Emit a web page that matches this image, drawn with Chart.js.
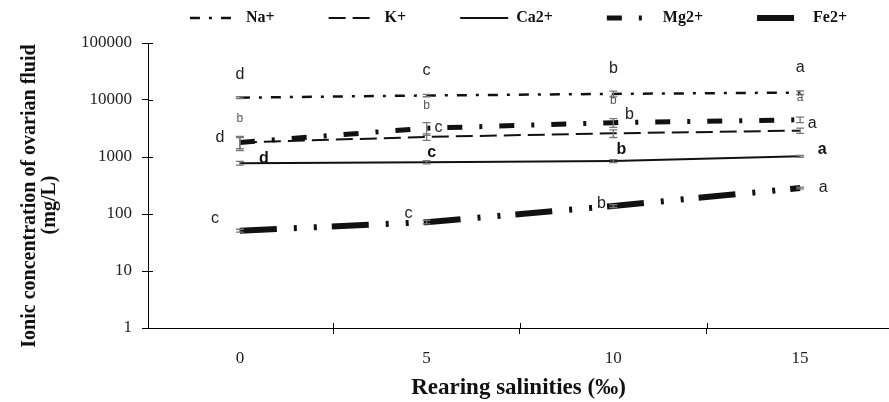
<!DOCTYPE html>
<html>
<head>
<meta charset="utf-8">
<script src="https://cdn.jsdelivr.net/npm/chart.js@4.4.1/dist/chart.umd.min.js"></script>
<style>
  html, body { margin: 0; padding: 0; background: #fff; }
  #wrap { width: 889px; height: 402px; }
</style>
</head>
<body>
<div id="wrap"><canvas id="myChart"></canvas></div>
<script>
// salinity groups (‰)
var salinities = [0, 5, 10, 15];

// ionic concentration (mg/L)
var naValues = [11000, 12000, 12800, 13500];
var kValues  = [1800, 2250, 2600, 2900];
var caValues = [780, 810, 850, 1030];
var mgValues = [1800, 3200, 4000, 4500];
var feValues = [51, 72, 138, 285];

// error bars (+/-)
var naErr = [400, 600, 1500, 1000];
var kErr  = [500, 300, 400, 300];
var caErr = [60, 50, 50, 40];
var mgErr = [400, 800, 700, 500];
var feErr = [3, 5, 8, 10];

// significance letters
var naLetters = ['d', 'c', 'b', 'a'];
var kLetters  = ['b', 'b', 'b', 'a'];
var caLetters = ['d', 'c', 'b', 'a'];
var mgLetters = ['d', 'c', 'b', 'a'];
var feLetters = ['c', 'c', 'b', 'a'];

var yTicks = [1, 10, 100, 1000, 10000, 100000];
var xTickMarks = [2.5, 7.5, 12.5];

var xTitle = 'Rearing salinities (\u2030)';
var yTitle = ['Ionic concentration of ovarian fluid', '(mg/L)'];

function pts(vals) {
  return vals.map(function (v, i) { return { x: salinities[i], y: v }; });
}

// where each letter sits relative to its point (pixels)
var letterStyle = [
  { dx: [0, 0, 0, 0],        dy: [-23, -25, -25, -25], font: '16px "Liberation Sans"', color: '#222' },
  { dx: [0, 0, 0, 0],        dy: [-24, -31, -33, -33], font: '12px "Liberation Sans"', color: '#555' },
  { dx: [24, 5, 8, 22],      dy: [-5, -10, -11, -7],   font: 'bold 16px "Liberation Sans"', color: '#111' },
  { dx: [-20, 12, 16, 12],   dy: [-5, -1, -8, 4],      font: '16px "Liberation Sans"', color: '#222' },
  { dx: [-25, -18, -12, 23], dy: [-12, -9, -2, 0],     font: '16px "Liberation Sans"', color: '#222' }
];

var extras = {
  id: 'extras',
  beforeLayout: function (chart) {
    var lg = chart.legend;
    if (lg && !lg._fixed) {
      var fit = lg.fit;
      lg.fit = function () { fit.call(this); this.height = 43; };
      lg._fixed = true;
    }
  },
  afterDatasetsDraw: function (chart) {
    var ctx = chart.ctx;
    var xs = chart.scales.x, ys = chart.scales.y;
    var area = chart.chartArea;
    var errs = [naErr, kErr, caErr, mgErr, feErr];
    var letters = [naLetters, kLetters, caLetters, mgLetters, feLetters];
    ctx.save();
    ctx.setLineDash([]);
    // inner halves of the axis ticks
    ctx.strokeStyle = '#000';
    ctx.lineWidth = 1;
    ctx.beginPath();
    yTicks.forEach(function (v) {
      var y = Math.round(ys.getPixelForValue(v)) + 0.5;
      ctx.moveTo(area.left, y); ctx.lineTo(area.left + 5, y);
    });
    xTickMarks.forEach(function (v) {
      var x = Math.round(xs.getPixelForValue(v)) + 0.5;
      ctx.moveTo(x, area.bottom); ctx.lineTo(x, area.bottom - 5);
    });
    ctx.stroke();
    // error bars
    chart.data.datasets.forEach(function (ds, d) {
      ds.data.forEach(function (p, i) {
        var e = errs[d][i];
        if (!e) return;
        var px = xs.getPixelForValue(p.x);
        var y1 = ys.getPixelForValue(p.y + e);
        var y2 = ys.getPixelForValue(Math.max(p.y - e, 1));
        ctx.strokeStyle = '#777';
        ctx.lineWidth = 1.3;
        ctx.beginPath();
        ctx.moveTo(px, y1); ctx.lineTo(px, y2);
        ctx.moveTo(px - 4, y1); ctx.lineTo(px + 4, y1);
        ctx.moveTo(px - 4, y2); ctx.lineTo(px + 4, y2);
        ctx.stroke();
      });
    });
    // letters
    ctx.textAlign = 'center';
    ctx.textBaseline = 'middle';
    chart.data.datasets.forEach(function (ds, d) {
      var st = letterStyle[d];
      ctx.font = st.font;
      ctx.fillStyle = st.color;
      ds.data.forEach(function (p, i) {
        var px = xs.getPixelForValue(p.x) + st.dx[i];
        var py = ys.getPixelForValue(p.y) + st.dy[i];
        ctx.fillText(letters[d][i], px, py);
      });
    });
    // y axis title, two lines
    ctx.font = 'bold 20px "Liberation Serif"';
    ctx.fillStyle = '#111';
    ctx.translate(0, 196);
    ctx.rotate(-Math.PI / 2);
    ctx.fillText(yTitle[0], 0, 30);
    ctx.fillText(yTitle[1], -9, 50);
    ctx.restore();
  }
};

var ctx = document.getElementById('myChart').getContext('2d');
var chart = new Chart(ctx, {
  type: 'line',
  data: {
    datasets: [{
      label: 'Na+',
      data: pts(naValues),
      borderColor: '#111',
      borderWidth: 2.5,
      borderDash: [10, 9, 3, 9]
    }, {
      label: 'K+',
      data: pts(kValues),
      borderColor: '#111',
      borderWidth: 2,
      borderDash: [17, 7]
    }, {
      label: 'Ca2+',
      data: pts(caValues),
      borderColor: '#111',
      borderWidth: 2
    }, {
      label: 'Mg2+',
      data: pts(mgValues),
      borderColor: '#111',
      borderWidth: 5,
      borderDash: [15, 17, 3, 17]
    }, {
      label: 'Fe2+',
      data: pts(feValues),
      borderColor: '#111',
      borderWidth: 6,
      borderDash: [37, 17, 3, 17, 3, 15]
    }]
  },
  plugins: [extras],
  options: {
    responsive: true,
    maintainAspectRatio: false,
    animation: false,
    layout: { padding: 0 },
    elements: { point: { radius: 0 }, line: { tension: 0 } },
    plugins: {
      tooltip: { enabled: false },
      legend: {
        position: 'top',
        fullSize: false,
        labels: {
          usePointStyle: true,
          pointStyle: 'line',
          pointStyleWidth: 48,
          padding: 10,
          color: '#111',
          font: { family: 'Liberation Serif', size: 16, weight: 'bold' },
          generateLabels: function (chart) {
            var n = chart.data.datasets.length;
            return chart.data.datasets.map(function (ds, i) {
              return {
                text: ds.label + (i < n - 1 ? '           ' : ''),
                datasetIndex: i,
                pointStyle: 'line',
                strokeStyle: ds.borderColor,
                fillStyle: ds.borderColor,
                fontColor: '#111',
                lineWidth: ds.borderWidth,
                lineDash: ds.borderDash || [],
                lineCap: 'butt',
                hidden: false
              };
            });
          }
        }
      }
    },
    scales: {
      x: {
        type: 'linear',
        min: -2.46,
        max: 17.38,
        afterBuildTicks: function (scale) {
          scale.ticks = salinities.concat(xTickMarks).sort(function (a, b) { return a - b; })
            .map(function (v) { return { value: v }; });
        },
        afterFit: function (scale) { scale.height = 74; },
        ticks: {
          autoSkip: false,
          maxRotation: 0,
          padding: 14,
          color: '#222',
          font: { family: 'Liberation Serif', size: 17 },
          callback: function (v) { return salinities.indexOf(v) >= 0 ? String(v) : ''; }
        },
        grid: {
          drawOnChartArea: false,
          tickLength: 6,
          tickColor: function (c) { return c.tick && salinities.indexOf(c.tick.value) >= 0 ? 'rgba(0,0,0,0)' : '#000'; }
        },
        border: { color: '#000', width: 1 },
        title: {
          display: true,
          text: xTitle,
          color: '#111',
          padding: { top: 3, bottom: 0 },
          font: { family: 'Liberation Serif', size: 23, weight: 'bold' }
        }
      },
      y: {
        type: 'logarithmic',
        min: 1,
        max: 100000,
        afterBuildTicks: function (scale) {
          scale.ticks = yTicks.map(function (v) { return { value: v }; });
        },
        afterFit: function (scale) { scale.width = 148; },
        ticks: {
          autoSkip: false,
          padding: 10,
          color: '#222',
          font: { family: 'Liberation Serif', size: 17 },
          callback: function (v) { return String(v); }
        },
        grid: { drawOnChartArea: false, tickLength: 6, tickColor: '#000' },
        border: { color: '#000', width: 1 }
      }
    }
  }
});
</script>
</body>
</html>
